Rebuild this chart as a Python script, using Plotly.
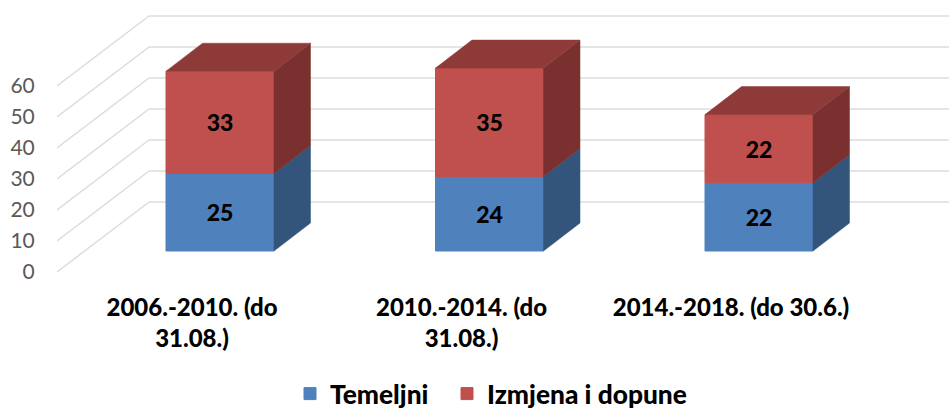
import plotly.graph_objects as go

categories = ["2006.-2010. (do<br>31.08.)", "2010.-2014. (do<br>31.08.)", "2014.-2018. (do 30.6.)"]
temeljni = [25, 24, 22]
izmjena = [33, 35, 22]
y_ticks = [0, 10, 20, 30, 40, 50, 60]

W, H = 949, 411
L, T, B = 57, 10, 275          # plot box in pixels
PX_PER_UNIT = 3.1
PX_PER_CAT = 269.5
ZERO_PX = 272
FIRST_CENTER_PX = 220

y_hi = (ZERO_PX - T) / PX_PER_UNIT
y_lo = (ZERO_PX - B) / PX_PER_UNIT
x_lo = (L - FIRST_CENTER_PX) / PX_PER_CAT
x_hi = (W - FIRST_CENTER_PX) / PX_PER_CAT

def dx(px): return px / PX_PER_CAT
def dy(px): return px / PX_PER_UNIT

bar_w = dx(108)
depth_x, depth_y = dx(36.5), dy(28)
wall_x, wall_y = dx(92), dy(70)
front_lift = dy(21)
xs = list(range(len(categories)))

BLUE, BLUE_SIDE = "#4F81BD", "#33547B"
RED, RED_SIDE, RED_TOP = "#C0504D", "#7A302F", "#8E3A38"
GRID = "#DCDCDC"

fig = go.Figure()
label_font = dict(family="Lato", size=23, color="black", weight=900)

red_base = [front_lift + v for v in temeljni]
blue_base = [front_lift] * len(xs)
for name, vals, base, col, leg in [("Temeljni", temeljni, blue_base, BLUE, "legend"),
                                   ("Izmjena i dopune", izmjena, red_base, RED, "legend2")]:
    fig.add_trace(go.Bar(x=xs, y=vals, base=base, width=bar_w, name=name, legend=leg,
                         showlegend=True,
                         marker=dict(color=col, line=dict(color=col, width=1)),
                         text=[str(v) for v in vals], textposition="inside",
                         insidetextanchor="middle", textangle=0,
                         textfont=label_font, hoverinfo="skip"))

def face(px, py, col):
    fig.add_trace(go.Scatter(x=px, y=py, mode="lines", fill="toself", fillcolor=col,
                             line=dict(width=0.5, color=col), showlegend=False, hoverinfo="skip"))

for i in xs:
    xr = i + bar_w / 2
    xl = i - bar_w / 2
    for b, v, side in [(blue_base[i], temeljni[i], BLUE_SIDE), (red_base[i], izmjena[i], RED_SIDE)]:
        face([xr, xr + depth_x, xr + depth_x, xr, xr],
             [b, b + depth_y, b + v + depth_y, b + v, b], side)
    top = red_base[i] + izmjena[i]
    face([xl, xl + depth_x, xr + depth_x, xr, xl],
         [top, top + depth_y, top + depth_y, top, top], RED_TOP)

shapes = []
for v in y_ticks:
    for (x0, y0, x1, y1) in [(x_lo, v, x_lo + wall_x, v + wall_y),
                             (x_lo + wall_x, v + wall_y, x_hi, v + wall_y)]:
        shapes.append(dict(type="line", xref="x", yref="y", layer="below",
                           x0=x0, y0=y0, x1=x1, y1=y1, line=dict(color=GRID, width=1.5)))

def legend_at(px):
    return dict(orientation="h", x=(px - L) / (W - L), xanchor="left",
                y=41 / H, yref="container", yanchor="top",
                font=dict(family="Lato", size=26.3, color="black", weight=900),
                bgcolor="rgba(0,0,0,0)", itemclick=False, itemdoubleclick=False)

fig.update_layout(
    width=W, height=H, autosize=False,
    margin=dict(l=L, r=0, t=T, b=H - B),
    paper_bgcolor="white", plot_bgcolor="rgba(0,0,0,0)",
    barmode="overlay", shapes=shapes,
    xaxis=dict(range=[x_lo, x_hi], tickvals=[i - dx(28) for i in xs], ticktext=categories,
               showgrid=False, zeroline=False, showline=False, ticks="outside", ticklen=11,
               tickcolor="rgba(0,0,0,0)", tickangle=0,
               tickfont=dict(family="Lato", size=24, color="black", weight=900)),
    yaxis=dict(range=[y_lo, y_hi], tickvals=y_ticks, showgrid=False, zeroline=False,
               showline=False, ticks="outside", ticklen=17, tickcolor="rgba(0,0,0,0)",
               tickfont=dict(family="Lato", size=21, color="#595959")),
    legend=legend_at(290),
    legend2=legend_at(447),
)
fig.write_html("out.html", config={"displayModeBar": False},
               post_script="document.body.style.margin='0';document.documentElement.style.overflow='hidden';")
